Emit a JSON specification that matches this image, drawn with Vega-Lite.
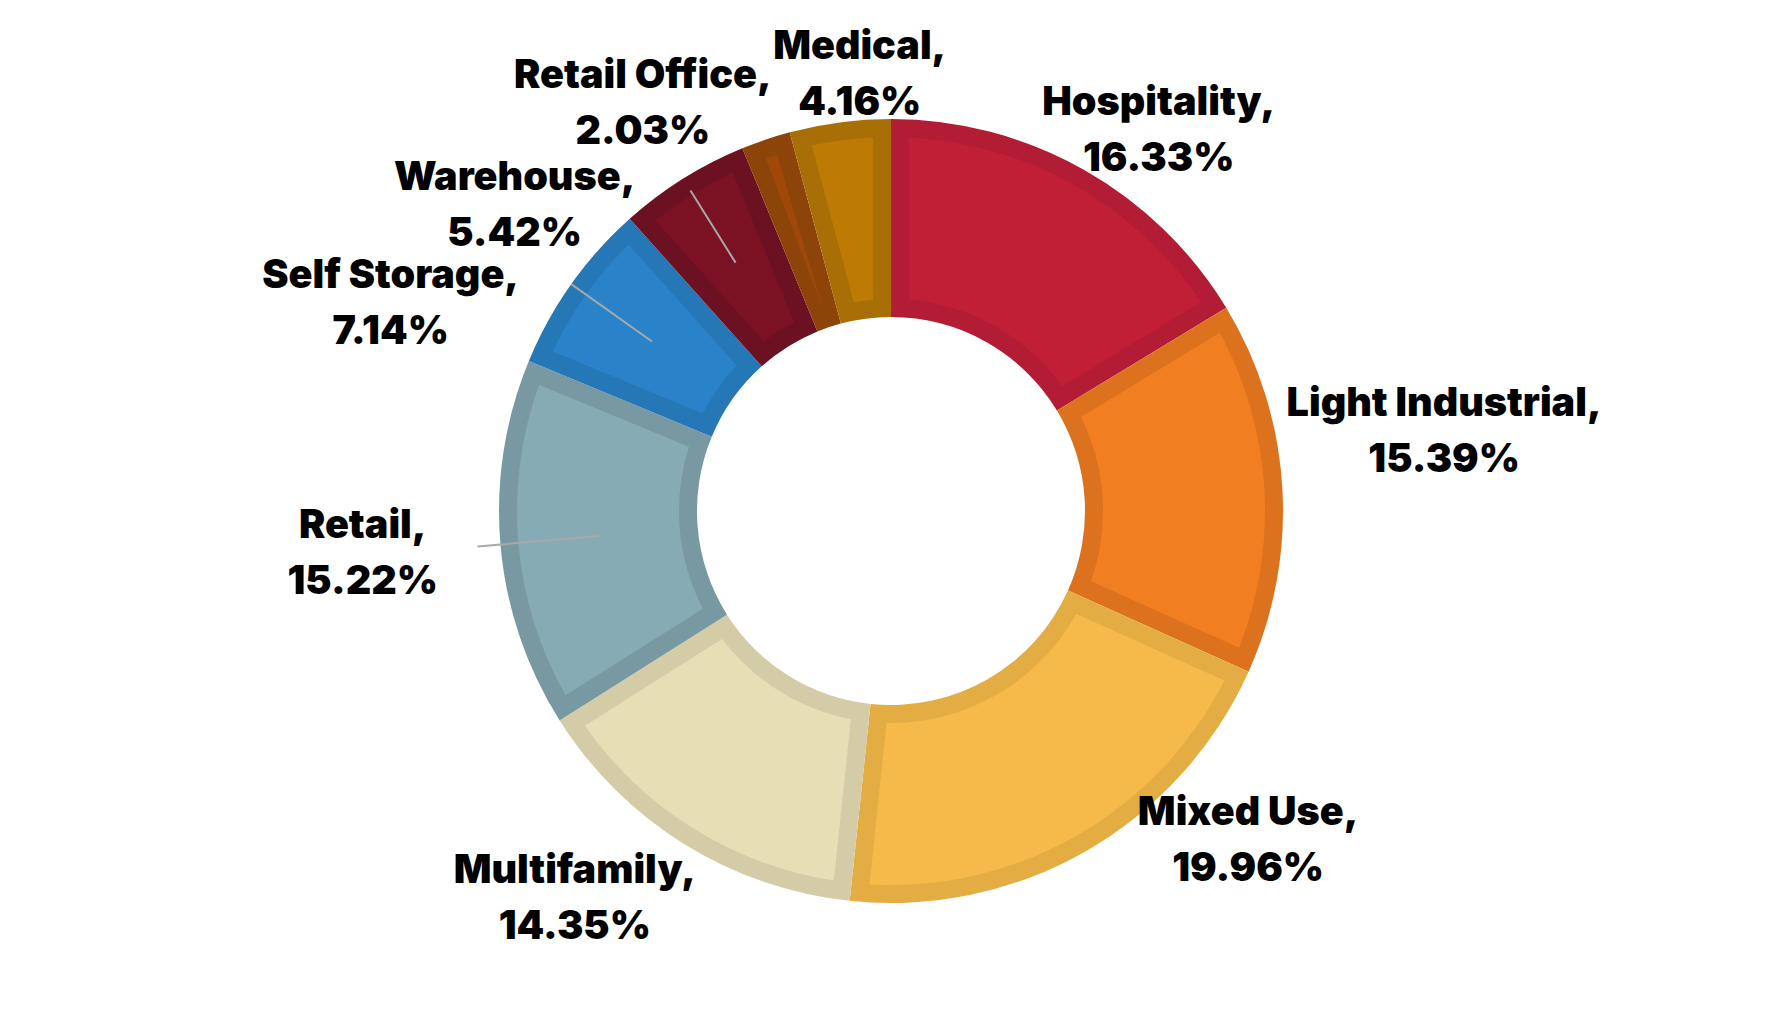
{
  "$schema": "https://vega.github.io/schema/vega-lite/v6.json",
  "width": 1782,
  "height": 1022,
  "padding": 0,
  "autosize": {"type": "fit", "contains": "padding"},
  "background": "white",
  "config": {"view": {"stroke": null}, "text": {"font": "Inter", "fontWeight": 900, "fontSize": 39.5, "lineHeight": 56, "lineBreak": "\n", "align": "center", "baseline": "middle", "color": "black"}},
  "data": {"values": [
    {"category": "Hospitality", "value": 16.33},
    {"category": "Light Industrial", "value": 15.39},
    {"category": "Mixed Use", "value": 19.96},
    {"category": "Multifamily", "value": 14.35},
    {"category": "Retail", "value": 15.22},
    {"category": "Self Storage", "value": 7.14},
    {"category": "Warehouse", "value": 5.42},
    {"category": "Retail Office", "value": 2.03},
    {"category": "Medical", "value": 4.16}
  ]},
  "transform": [
    {"window": [{"op": "row_number", "as": "rank"}]},
    {"window": [{"op": "sum", "field": "value", "as": "end"}], "sort": [{"field": "rank"}], "frame": [null, 0]},
    {"calculate": "datum.end - datum.value", "as": "start"},
    {"calculate": "(datum.start + datum.end) / 2", "as": "mid"},
    {"calculate": "datum.category + ',\\n' + format(datum.value, '.2f') + '%'", "as": "label"}
  ],
  "resolve": {"scale": {"color": "independent"}},
  "layer": [
    {
      "mark": {"type": "arc", "outerRadius": 392, "innerRadius": 194},
      "encoding": {
        "theta": {"field": "start", "type": "quantitative", "scale": {"domain": [0, 100], "range": [0, 6.283185307179586]}},
        "theta2": {"field": "end"},
        "color": {"field": "category", "type": "nominal", "legend": null,
          "scale": {"domain": ["Hospitality", "Light Industrial", "Mixed Use", "Multifamily", "Retail", "Self Storage", "Warehouse", "Retail Office", "Medical"],
                    "range": ["#B21C35", "#DC721E", "#E4AD43", "#D4CCA6", "#7899A1", "#2577B5", "#6C1122", "#8C4409", "#A96F07"]}}
      }
    },
    {
      "mark": {"type": "arc", "outerRadius": 374, "innerRadius": 212, "padAngle": 0.0838},
      "encoding": {
        "theta": {"field": "start", "type": "quantitative", "scale": {"domain": [0, 100], "range": [0, 6.283185307179586]}},
        "theta2": {"field": "end"},
        "color": {"field": "category", "type": "nominal", "legend": null,
          "scale": {"domain": ["Hospitality", "Light Industrial", "Mixed Use", "Multifamily", "Retail", "Self Storage", "Warehouse", "Retail Office", "Medical"],
                    "range": ["#C11F36", "#F17F22", "#F6BA4A", "#E6DFB6", "#86ABB4", "#2A83C8", "#7A1224", "#A0480A", "#BD7B05"]}}
      }
    },
    {
      "transform": [{"filter": "datum.category === 'Warehouse'"}],
      "mark": {"type": "arc", "outerRadius": 378, "innerRadius": 293, "filled": false, "stroke": "#A8A8A8", "strokeWidth": 2},
      "encoding": {
        "theta": {"field": "mid", "type": "quantitative", "scale": {"domain": [0, 100], "range": [0, 6.283185307179586]}},
        "theta2": {"field": "mid"}
      }
    },
    {
      "transform": [{"filter": "datum.category === 'Self Storage'"}],
      "mark": {"type": "arc", "outerRadius": 392, "innerRadius": 293, "filled": false, "stroke": "#A8A8A8", "strokeWidth": 2},
      "encoding": {
        "theta": {"field": "mid", "type": "quantitative", "scale": {"domain": [0, 100], "range": [0, 6.283185307179586]}},
        "theta2": {"field": "mid"}
      }
    },
    {
      "transform": [{"filter": "datum.category === 'Retail'"}],
      "mark": {"type": "arc", "outerRadius": 415, "innerRadius": 293, "filled": false, "stroke": "#A8A8A8", "strokeWidth": 2},
      "encoding": {
        "theta": {"field": "mid", "type": "quantitative", "scale": {"domain": [0, 100], "range": [0, 6.283185307179586]}},
        "theta2": {"field": "mid"}
      }
    },
    {
      "transform": [{"filter": "datum.category === 'Hospitality'"}],
      "mark": {"type": "text", "radius": 470, "dx": 37, "dy": 1},
      "encoding": {"theta": {"field": "mid", "type": "quantitative", "scale": {"domain": [0, 100], "range": [0, 6.283185307179586]}}, "text": {"field": "label"}}
    },
    {
      "transform": [{"filter": "datum.category === 'Light Industrial'"}],
      "mark": {"type": "text", "radius": 470, "dx": 84, "dy": -78},
      "encoding": {"theta": {"field": "mid", "type": "quantitative", "scale": {"domain": [0, 100], "range": [0, 6.283185307179586]}}, "text": {"field": "label"}}
    },
    {
      "transform": [{"filter": "datum.category === 'Mixed Use'"}],
      "mark": {"type": "text", "radius": 470, "dx": 123, "dy": -106},
      "encoding": {"theta": {"field": "mid", "type": "quantitative", "scale": {"domain": [0, 100], "range": [0, 6.283185307179586]}}, "text": {"field": "label"}}
    },
    {
      "transform": [{"filter": "datum.category === 'Multifamily'"}],
      "mark": {"type": "text", "radius": 470, "dx": -68, "dy": -39},
      "encoding": {"theta": {"field": "mid", "type": "quantitative", "scale": {"domain": [0, 100], "range": [0, 6.283185307179586]}}, "text": {"field": "label"}}
    },
    {
      "transform": [{"filter": "datum.category === 'Retail'"}],
      "mark": {"type": "text", "radius": 470, "dx": -60, "dy": -25},
      "encoding": {"theta": {"field": "mid", "type": "quantitative", "scale": {"domain": [0, 100], "range": [0, 6.283185307179586]}}, "text": {"field": "label"}}
    },
    {
      "transform": [{"filter": "datum.category === 'Self Storage'"}],
      "mark": {"type": "text", "radius": 470, "dx": -117, "dy": 37},
      "encoding": {"theta": {"field": "mid", "type": "quantitative", "scale": {"domain": [0, 100], "range": [0, 6.283185307179586]}}, "text": {"field": "label"}}
    },
    {
      "transform": [{"filter": "datum.category === 'Warehouse'"}],
      "mark": {"type": "text", "radius": 470, "dx": -127, "dy": 65},
      "encoding": {"theta": {"field": "mid", "type": "quantitative", "scale": {"domain": [0, 100], "range": [0, 6.283185307179586]}}, "text": {"field": "label"}}
    },
    {
      "transform": [{"filter": "datum.category === 'Retail Office'"}],
      "mark": {"type": "text", "radius": 470, "dx": -98, "dy": 10},
      "encoding": {"theta": {"field": "mid", "type": "quantitative", "scale": {"domain": [0, 100], "range": [0, 6.283185307179586]}}, "text": {"field": "label"}}
    },
    {
      "transform": [{"filter": "datum.category === 'Medical'"}],
      "mark": {"type": "text", "radius": 470, "dx": 30, "dy": 2},
      "encoding": {"theta": {"field": "mid", "type": "quantitative", "scale": {"domain": [0, 100], "range": [0, 6.283185307179586]}}, "text": {"field": "label"}}
    }
  ]
}
